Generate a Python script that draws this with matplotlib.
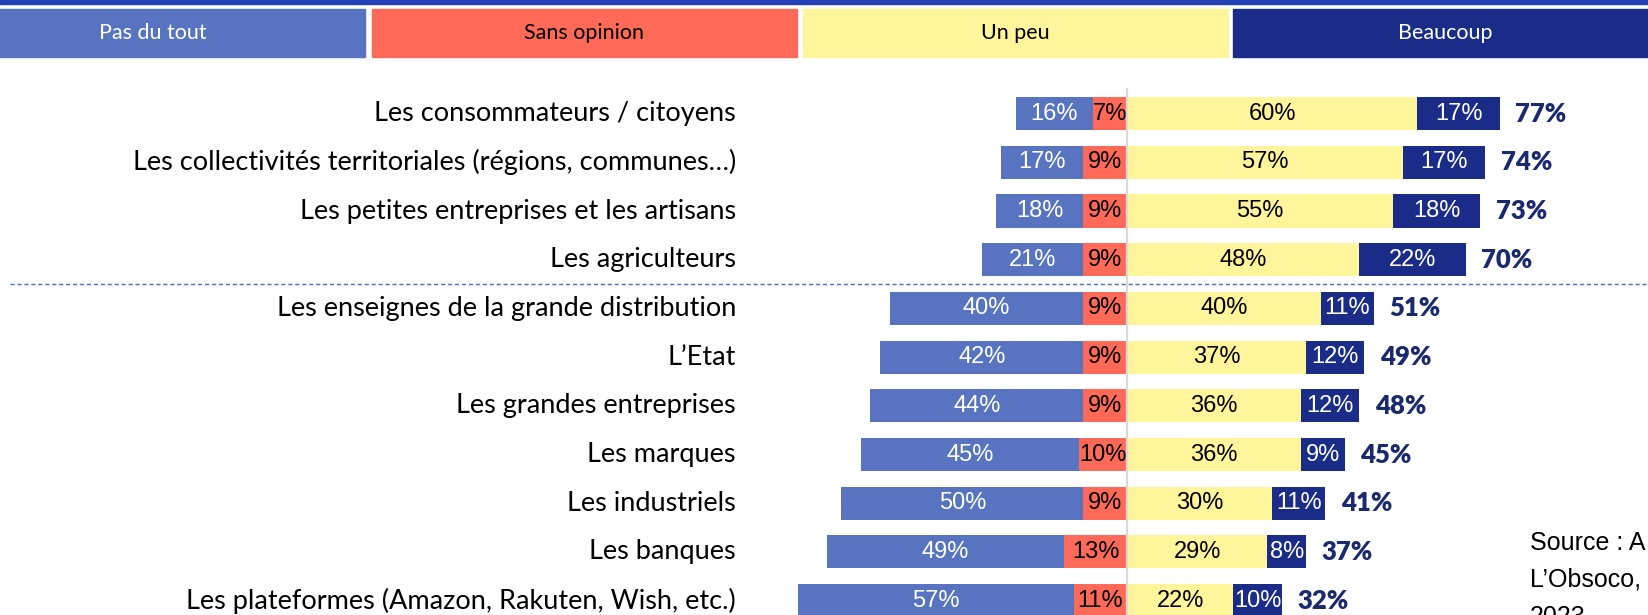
import matplotlib
matplotlib.use("Agg")
import matplotlib.pyplot as plt
from matplotlib.patches import Rectangle

# data
categories = [
    "Les consommateurs / citoyens",
    "Les collectivités territoriales (régions, communes…)",
    "Les petites entreprises et les artisans",
    "Les agriculteurs",
    "Les enseignes de la grande distribution",
    "L’Etat",
    "Les grandes entreprises",
    "Les marques",
    "Les industriels",
    "Les banques",
    "Les plateformes (Amazon, Rakuten, Wish, etc.)",
]
pas_du_tout = [16, 17, 18, 21, 40, 42, 44, 45, 50, 49, 57]
sans_opinion = [7, 9, 9, 9, 9, 9, 9, 10, 9, 13, 11]
un_peu = [60, 57, 55, 48, 40, 37, 36, 36, 30, 29, 22]
beaucoup = [17, 17, 18, 22, 11, 12, 12, 9, 11, 8, 10]
totals = [77, 74, 73, 70, 51, 49, 48, 45, 41, 37, 32]

legend_labels = ["Pas du tout", "Sans opinion", "Un peu", "Beaucoup"]
source_lines = ["Source : A", "L’Obsoco,", "2023"]

C_PAS = "#5873bf"
C_SANS = "#ff6a58"
C_PEU = "#fff59a"
C_BEAU = "#1a2c87"
C_TOTAL = "#1b2a6e"

W, H = 1649, 615
fig = plt.figure(figsize=(W / 100, H / 100), dpi=100)
ax = fig.add_axes([0, 0, 1, 1])
ax.set_axis_off()

# pixel layout: zero line at x=1127, 4.84 px per %, rows every 48.7 px from y=113.6
PX_PER_PCT = 4.84
X0 = 1127
ax.set_xlim(-X0 / PX_PER_PCT, (W - X0) / PX_PER_PCT)
ax.set_ylim((H - 113.6) / 48.7, -113.6 / 48.7)

rows = range(len(categories))
bh = 0.68
neg_sans = [-s for s in sans_opinion]
neg_pas = [-p for p in pas_du_tout]

ax.barh(rows, neg_sans, height=bh, color=C_SANS, zorder=2)
ax.barh(rows, neg_pas, left=neg_sans, height=bh, color=C_PAS, zorder=2)
ax.barh(rows, un_peu, height=bh, color=C_PEU, zorder=2)
ax.barh(rows, beaucoup, left=un_peu, height=bh, color=C_BEAU, zorder=2)

val_font = dict(family="Liberation Sans", fontsize=17, ha="center", va="center", zorder=4)
for i in rows:
    s, p, u, b = sans_opinion[i], pas_du_tout[i], un_peu[i], beaucoup[i]
    ax.text(-s / 2, i, f"{s}%", color="black", **val_font)
    ax.text(-s - p / 2, i, f"{p}%", color="white", **val_font)
    ax.text(u / 2, i, f"{u}%", color="black", **val_font)
    ax.text(u + b / 2, i, f"{b}%", color="white", **val_font)
    ax.text(u + b + 3.2, i, f"{totals[i]}%", color=C_TOTAL, fontsize=18.5,
            fontweight="heavy", family="Lato", ha="left", va="center", zorder=4)
    ax.text(-80.8, i, categories[i], color="black", fontsize=19.5, family="Lato",
            ha="right", va="center")

# zero line and separator
ax.plot([0, 0], [-0.5, 11], color="#d9d9d9", lw=1.6, zorder=3)
ax.plot([-230.7, 120], [3.5, 3.5], color="#4a6cc0", lw=1, ls=(0, (3, 2)), zorder=1)

# top legend strip
fig.patches.append(Rectangle((0, (H - 4) / H), 1, 4 / H, transform=fig.transFigure,
                             color="#2442b5"))
box_x = [-60, 372, 803, 1233]
box_w = 425
box_cols = [C_PAS, C_SANS, C_PEU, C_BEAU]
txt_cols = ["white", "black", "black", "white"]
y_top, y_bot = 9.5, 57
for x, lab, c, tc in zip(box_x, legend_labels, box_cols, txt_cols):
    fig.patches.append(Rectangle((x / W, 1 - y_bot / H), box_w / W, (y_bot - y_top) / H,
                                 transform=fig.transFigure, color=c))
    fig.text((x + box_w / 2) / W, 1 - (y_top + y_bot) / 2 / H, lab, color=tc,
             fontsize=15.5, family="Lato", ha="center", va="center")

for k, line in enumerate(source_lines):
    fig.text(1530 / W, 1 - (543 + 37 * k) / H, line, fontsize=18,
             family="Liberation Sans", ha="left", va="center")

fig.savefig("out.png", dpi=100)
